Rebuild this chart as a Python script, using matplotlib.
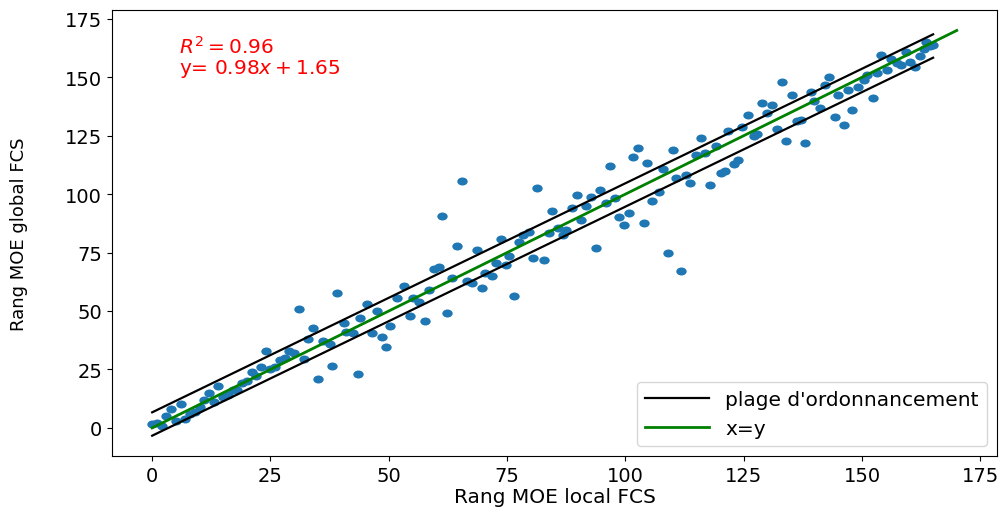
import numpy as np
import matplotlib
matplotlib.use("Agg")
import matplotlib.pyplot as plt
from matplotlib.path import Path

# rank of each item: local FCS (x) vs global FCS (y)
rang_local = [
    0, 1, 2, 3, 4, 5, 6, 7, 8, 9, 10, 11, 12, 13, 14, 15, 16, 17, 18, 19,
    20, 21, 22, 23, 24, 25, 26, 27, 28, 29, 30,
    31, 32, 33, 34, 35, 36, 37.5, 38, 39, 40.5, 41, 42.5, 43.5, 44, 45.3, 46.4,
    47.4, 48.5, 49.5, 50.2, 51.7, 53.3, 54.5, 55.2, 56.4, 57.6, 58.4, 59.5,
    60.5, 61.2, 62.4, 63.4, 64.4, 65.5, 66.6, 67.6, 68.7, 69.7, 70.4, 71.7,
    72.7, 73.6, 74.7, 75.4, 76.5, 77.5, 78.4, 79.7, 80.4,
    81.4, 82.7, 83.8, 84.5, 85.7, 86.8, 87.5, 88.7, 89.8, 90.6, 91.7, 92.8,
    93.7, 94.7, 95.8, 96.7, 97.7, 98.7, 99.7, 100.8, 101.6, 102.7, 103.9,
    104.6, 105.7, 107, 107.9, 109, 110, 110.7, 111.8, 112.8, 113.7, 115, 116,
    116.9, 117.9, 119.2, 120.1,
    121, 121.6, 122.9, 123.8, 124.7, 125.9, 127.2, 127.9, 128.9, 130, 130.9,
    132, 133, 133.9, 135.1, 136.2, 137.1, 138, 139.1, 139.9, 141.2, 142.2, 143,
    144.2, 144.9, 146.1, 147.1, 147.9, 149.1, 150.4, 151, 152.2, 153.2, 154.1,
    155.2, 156.2, 157.3, 158.2, 159.3, 160.1, 161.2, 162.2, 163, 163.6, 164.4,
    165,
]
rang_global = [
    1.5, 2, 1, 5, 8, 3, 10, 4, 6, 7, 9, 12, 15, 11, 18, 13, 14, 16, 16, 19,
    20, 24, 22, 26, 33, 25, 26, 29, 30, 33, 32,
    50.8, 29.4, 38, 42.7, 20.8, 37, 35.8, 26.5, 57.6, 44.8, 41.2, 40.5, 23, 47,
    53, 40.5, 49.8, 39, 34.8, 43.6, 55.5, 60.8, 48, 55.5, 54, 45.8, 59, 68,
    69, 90.8, 49, 64, 77.9, 105.8, 63, 61.9, 75.9, 59.8, 66.2, 64.8, 70.5,
    80.9, 69.7, 73.6, 56.6, 79.7, 82.6, 84, 72.8,
    102.8, 71.6, 83.3, 92.9, 85.7, 82.3, 84.7, 94, 99.7, 89, 95, 98.7, 76.9,
    101.8, 96.1, 112.1, 98.3, 90, 86.6, 91.9, 115.7, 119.8, 87.6, 113.5, 97.1,
    100.9, 110.9, 74.7, 118.8, 107.1, 66.9, 108, 104.8, 116.7, 124, 117.8,
    103.7, 120.7, 109,
    110, 127, 113, 114.7, 128.5, 133.8, 125, 125.8, 138.9, 134.9, 138, 127.8,
    147.9, 122.9, 142.2, 131.1, 131.8, 121.8, 143.6, 140, 136.9, 146.8, 150.1,
    132.8, 142.5, 129.7, 144.6, 136.1, 145.8, 148.9, 151, 141, 152, 159.6,
    152.9, 157.7, 156, 155.3, 160.9, 156.6, 154.2, 158.9, 162, 164.9, 163.5,
    163.9,
]

R2 = 0.96
SLOPE = 0.98
INTERCEPT = 1.65
HALF_WIDTH = 5  # +/- band around the fit
DIAG_END = 170

x = np.asarray(rang_local, float)
y = np.asarray(rang_global, float)

# slightly wide dots, like the stretched original
circ = Path.unit_circle()
dot = Path(circ.vertices * [1.3, 1.0], circ.codes)

fig = plt.figure(figsize=(10.04, 5.10), dpi=100)
ax = fig.add_axes([0.1115, 0.104, 0.8815, 0.874])

ax.scatter(x, y, s=56, marker=dot, color="#1f77b4", linewidths=0, zorder=2)

xb = np.array([0, x.max()])
fit = SLOPE * xb + INTERCEPT
ax.plot(xb, fit + HALF_WIDTH, color="black", lw=1.6, label="plage d'ordonnancement", zorder=3)
ax.plot(xb, fit - HALF_WIDTH, color="black", lw=1.6, zorder=3)
ax.plot([0, DIAG_END], [0, DIAG_END], color="green", lw=2, label="x=y", zorder=3)

ax.text(5.7, 168, f"$R^2 = {R2}$\ny= {SLOPE}$x + {INTERCEPT}$",
        color="red", fontsize=14.5, va="top", ha="left", linespacing=1.0)

ax.set_xticks(np.arange(0, 176, 25))
ax.set_yticks(np.arange(0, 176, 25))
ax.tick_params(labelsize=14)
ax.set_xlabel("Rang MOE local FCS", fontsize=14.5)
ax.set_ylabel("Rang MOE global FCS", fontsize=13)
ax.xaxis.set_label_coords(0.5, -0.07)
ax.yaxis.set_label_coords(-0.095, 0.5)

ax.legend(loc="lower right", fontsize=14.5, handlelength=3.2, borderaxespad=0.5)

fig.savefig("out.png", dpi=100)
